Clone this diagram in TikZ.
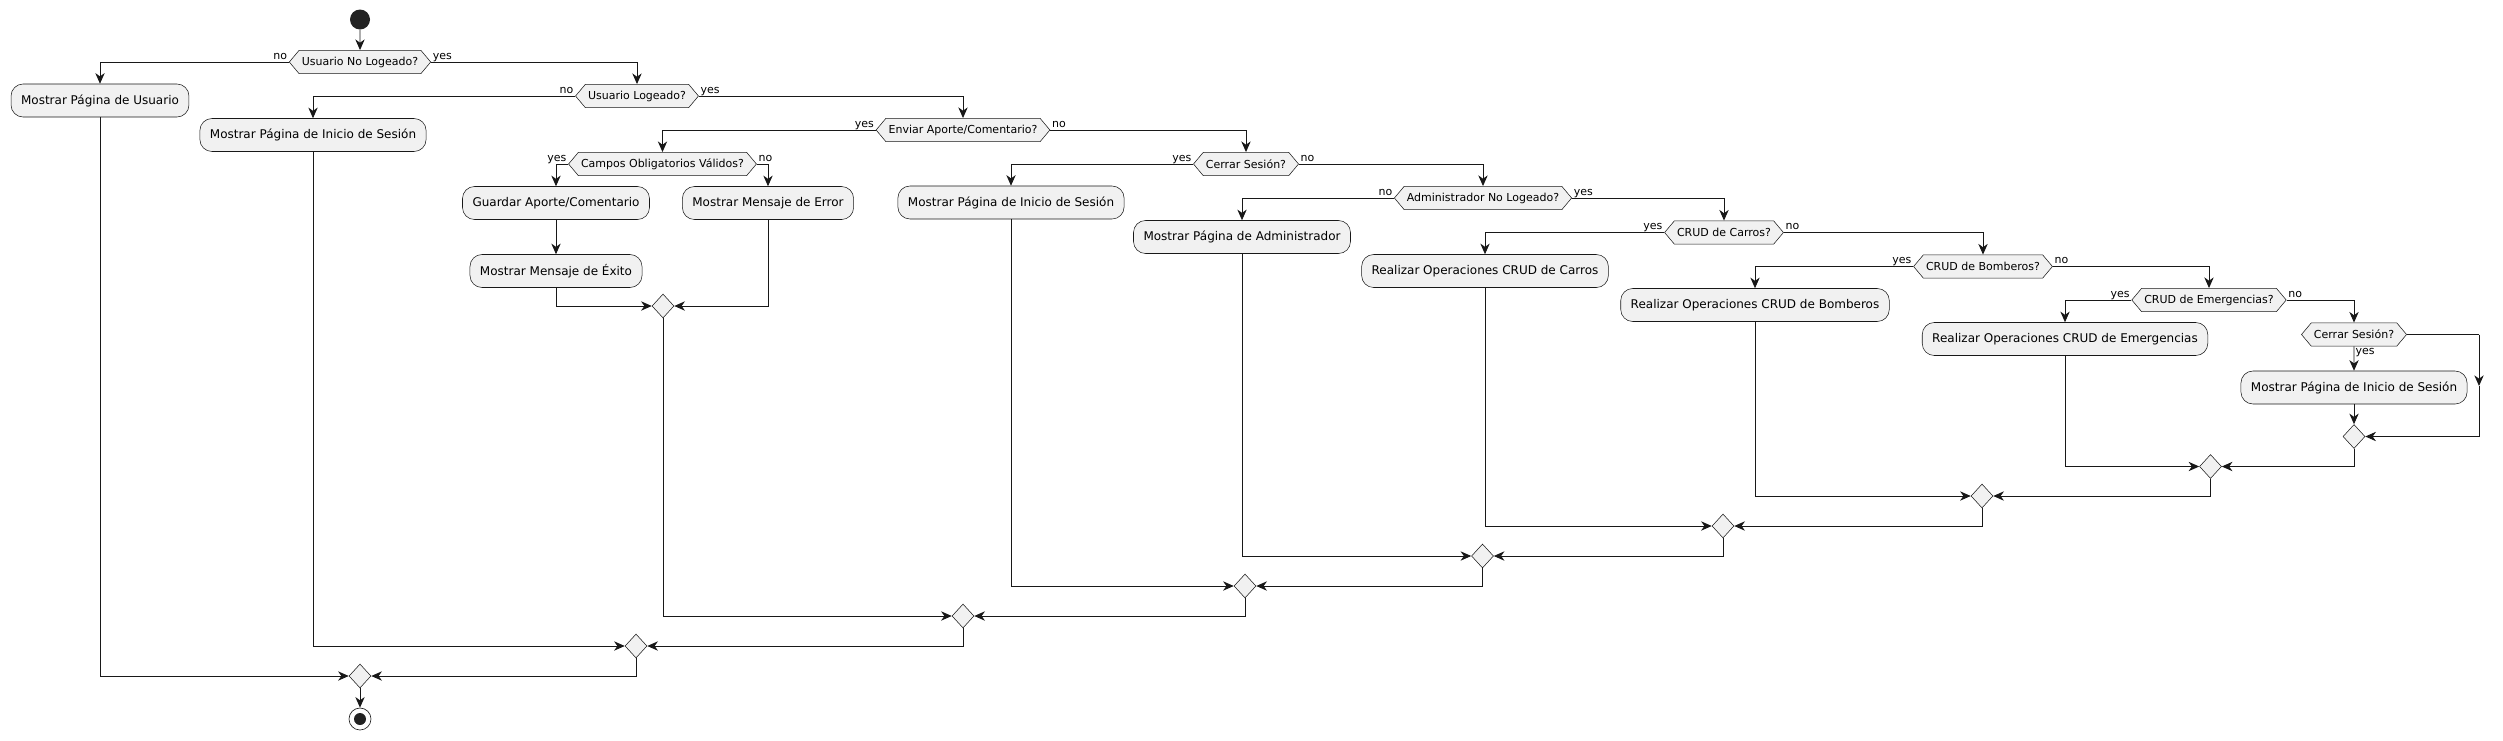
\documentclass[tikz,border=0pt]{standalone}
\usepackage{fontspec}
\setmainfont{DejaVu Sans}
\usetikzlibrary{shapes.geometric,shapes.symbols,arrows.meta}

\definecolor{boxfill}{HTML}{F1F1F1}
\definecolor{ink}{HTML}{181818}
\definecolor{dot}{HTML}{222222}

\tikzset{
  act/.style={draw=ink, line width=0.4pt, fill=boxfill, rounded corners=9pt,
    minimum height=24.75pt, inner xsep=7.5pt, font=\fontsize{9}{11}\selectfont},
  cond/.style={signal, signal to=west and east, signal pointer angle=100,
    draw=ink, line width=0.4pt, fill=boxfill, minimum height=17.5pt,
    inner xsep=2pt, font=\fontsize{8.25}{10}\selectfont},
  merge/.style={diamond, draw=ink, line width=0.4pt, fill=boxfill,
    inner sep=0pt, minimum width=16.5pt, minimum height=18pt},
  flow/.style={draw=ink, line width=0.7pt,
    -{Stealth[length=8pt,width=7pt,inset=2.5pt]}},
  lbl/.style={font=\fontsize{8.25}{10}\selectfont, inner sep=1pt},
  lefttag/.style={lbl, anchor=base east, yshift=2pt},
  righttag/.style={lbl, anchor=base west, yshift=2pt},
}

\begin{document}
\begin{tikzpicture}[x=0.75pt, y=-0.75pt]
\useasboundingbox (0,0) rectangle (2503,740);

% start and first checks
\node[circle, fill=dot, minimum size=15pt, inner sep=0pt] (start) at (360,19.5) {};
\node[cond] (d1) at (360,62) {Usuario No Logeado?};
\node[act] (a1) at (100,100.5) {Mostrar Página de Usuario};
\node[cond] (d2) at (637,96) {Usuario Logeado?};
\node[act] (a2) at (313,135) {Mostrar Página de Inicio de Sesión};
\node[cond] (d3) at (963,130) {Enviar Aporte/Comentario?};

% aporte / comentario
\node[cond] (d4) at (662.5,164) {Campos Obligatorios Válidos?};
\node[act] (a3) at (556,203) {Guardar Aporte/Comentario};
\node[act] (a4) at (768,203) {Mostrar Mensaje de Error};
\node[act] (a5) at (556,271) {Mostrar Mensaje de Éxito};
\node[merge] (m1) at (663,306) {};

% sesion y administrador
\node[cond] (d5) at (1246,164) {Cerrar Sesión?};
\node[act] (a6) at (1011,202.5) {Mostrar Página de Inicio de Sesión};
\node[cond] (d6) at (1483,198) {Administrador No Logeado?};
\node[act] (a7) at (1242,237) {Mostrar Página de Administrador};
\node[cond] (d7) at (1724,232.5) {CRUD de Carros?};
\node[act] (a8) at (1485,271) {Realizar Operaciones CRUD de Carros};
\node[cond] (d8) at (1983,266.5) {CRUD de Bomberos?};
\node[act] (a9) at (1755,305) {Realizar Operaciones CRUD de Bomberos};
\node[cond] (d9) at (2209,300) {CRUD de Emergencias?};
\node[act] (a10) at (2065,339) {Realizar Operaciones CRUD de Emergencias};
\node[cond] (d10) at (2354,334.5) {Cerrar Sesión?};
\node[act] (a11) at (2354,387.5) {Mostrar Página de Inicio de Sesión};

% merges
\node[merge] (mA) at (2354,436.5) {};
\node[merge] (mB) at (2210.5,466.5) {};
\node[merge] (mC) at (1982,496) {};
\node[merge] (mD) at (1723,526) {};
\node[merge] (mE) at (1482.5,556) {};
\node[merge] (mF) at (1245,586) {};
\node[merge] (mG) at (963,616) {};
\node[merge] (mH) at (636,646) {};
\node[merge] (mI) at (360,676) {};
\node[circle, draw=dot, line width=0.5pt, minimum size=16.5pt, inner sep=0pt] (stop) at (360,719) {};
\fill[dot] (stop.center) circle (4.5pt);

\coordinate (loopa) at (2479,334.5);
\coordinate (loopb) at (2479,386);

% branches
\draw[flow] (start) -- (d1);
\draw[flow] (d1.west) node[lefttag] {no} -| (a1.north);
\draw[flow] (d1.east) node[righttag] {yes} -| (d2.north);
\draw[flow] (d2.west) node[lefttag] {no} -| (a2.north);
\draw[flow] (d2.east) node[righttag] {yes} -| (d3.north);
\draw[flow] (d3.west) node[lefttag] {yes} -| (d4.north);
\draw[flow] (d3.east) node[righttag] {no} -| (d5.north);
\draw[flow] (d4.west) node[lefttag] {yes} -| (a3.north);
\draw[flow] (d4.east) node[righttag] {no} -| (a4.north);
\draw[flow] (a3) -- (a5);
\draw[flow] (d5.west) node[lefttag] {yes} -| (a6.north);
\draw[flow] (d5.east) node[righttag] {no} -| (d6.north);
\draw[flow] (d6.west) node[lefttag] {no} -| (a7.north);
\draw[flow] (d6.east) node[righttag] {yes} -| (d7.north);
\draw[flow] (d7.west) node[lefttag] {yes} -| (a8.north);
\draw[flow] (d7.east) node[righttag] {no} -| (d8.north);
\draw[flow] (d8.west) node[lefttag] {yes} -| (a9.north);
\draw[flow] (d8.east) node[righttag] {no} -| (d9.north);
\draw[flow] (d9.west) node[lefttag] {yes} -| (a10.north);
\draw[flow] (d9.east) node[righttag] {no} -| (d10.north);
\draw[flow] (d10) -- (a11);
\node[lbl, anchor=north west] at (d10.south) {yes};
\draw[draw=ink, line width=0.7pt] (d10.east) -- (loopa);
\draw[flow] (loopa) -- (loopb);
\draw[flow] (loopb) |- (mA.east);
\draw[flow] (a11) -- (mA);

% joins
\draw[flow] (a5.south) |- (m1.west);
\draw[flow] (a4.south) |- (m1.east);
\draw[flow] (mA.south) |- (mB.east);
\draw[flow] (a10.south) |- (mB.west);
\draw[flow] (mB.south) |- (mC.east);
\draw[flow] (a9.south) |- (mC.west);
\draw[flow] (mC.south) |- (mD.east);
\draw[flow] (a8.south) |- (mD.west);
\draw[flow] (mD.south) |- (mE.east);
\draw[flow] (a7.south) |- (mE.west);
\draw[flow] (mE.south) |- (mF.east);
\draw[flow] (a6.south) |- (mF.west);
\draw[flow] (mF.south) |- (mG.east);
\draw[flow] (m1.south) |- (mG.west);
\draw[flow] (mG.south) |- (mH.east);
\draw[flow] (a2.south) |- (mH.west);
\draw[flow] (mH.south) |- (mI.east);
\draw[flow] (a1.south) |- (mI.west);
\draw[flow] (mI) -- (stop);
\end{tikzpicture}
\end{document}
